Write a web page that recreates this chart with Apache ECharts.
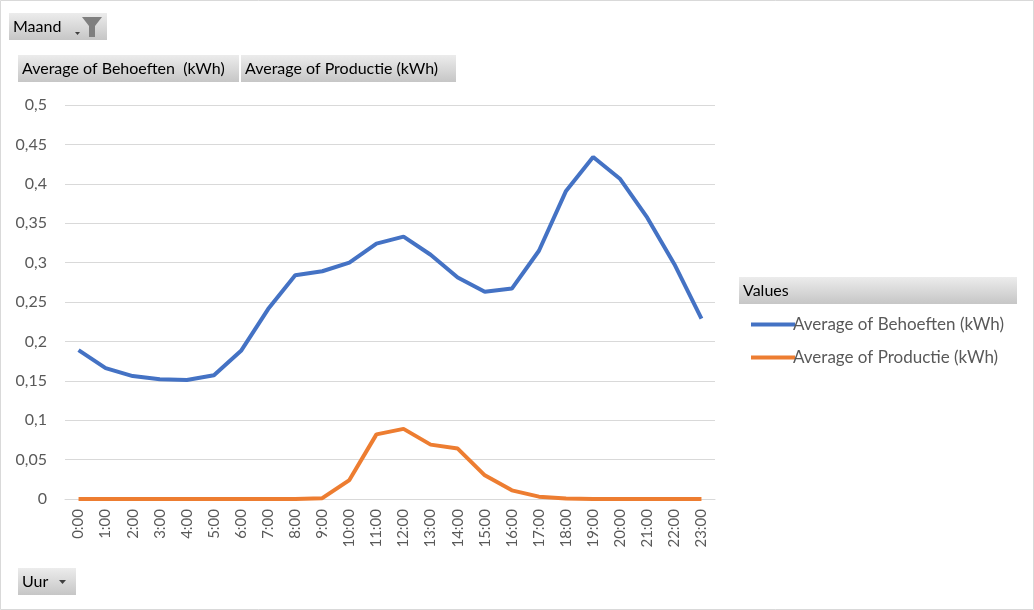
<!DOCTYPE html>
<html>
<head>
<meta charset="utf-8">
<title>Behoeften en Productie per uur</title>
<script src="https://cdn.jsdelivr.net/npm/echarts@6/dist/echarts.min.js"></script>
<style>
  html, body { margin: 0; padding: 0; background: #fff; }
  #chart { width: 1034px; height: 610px; }
</style>
</head>
<body>
<div id="chart"></div>
<script>
// data gelezen van de grafiek
const uren = ['0:00', '1:00', '2:00', '3:00', '4:00', '5:00', '6:00', '7:00', '8:00', '9:00', '10:00', '11:00',
  '12:00', '13:00', '14:00', '15:00', '16:00', '17:00', '18:00', '19:00', '20:00', '21:00', '22:00', '23:00'];
const behoeften = [0.189, 0.166, 0.156, 0.152, 0.151, 0.157, 0.188, 0.241, 0.284, 0.289, 0.300, 0.324,
  0.333, 0.310, 0.281, 0.263, 0.267, 0.315, 0.391, 0.434, 0.406, 0.357, 0.298, 0.229];
const productie = [0, 0, 0, 0, 0, 0, 0, 0, 0, 0.001, 0.024, 0.082,
  0.089, 0.069, 0.064, 0.030, 0.011, 0.003, 0.0005, 0, 0, 0, 0, 0];
const naamBehoeften = 'Average of Behoeften (kWh)';
const naamProductie = 'Average of Productie (kWh)';

const font = 'Lato, "Open Sans", sans-serif';
const grijs = '#595959';

// knop met grijze gradient zoals in de Excel pivot chart
function knop(x, y, w, h, tekst) {
  return {
    type: 'group',
    children: [
      {
        type: 'rect',
        shape: { x: x, y: y, width: w, height: h },
        style: {
          fill: new echarts.graphic.LinearGradient(0, 0, 0, 1, [
            { offset: 0, color: '#ececec' },
            { offset: 1, color: '#c6c6c6' }
          ])
        }
      },
      {
        type: 'text',
        x: x + 4, y: y + h / 2,
        style: { text: tekst, fill: '#000', font: '16px ' + font, verticalAlign: 'middle' }
      }
    ]
  };
}

const chart = echarts.init(document.getElementById('chart'));
const option = {
  animation: false,
  backgroundColor: '#fff',
  textStyle: { fontFamily: font },
  grid: { left: 65, right: 319, top: 105, bottom: 111 },
  legend: {
    orient: 'vertical',
    left: 746,
    top: 311,
    icon: 'rect',
    itemWidth: 44,
    itemHeight: 4,
    itemGap: 16,
    textStyle: { color: grijs, fontSize: 17, fontFamily: font, padding: [0, 0, 0, -7] },
    data: [naamBehoeften, naamProductie]
  },
  xAxis: {
    type: 'category',
    data: uren,
    axisLine: { lineStyle: { color: '#d9d9d9', width: 1 } },
    axisTick: { show: false },
    axisLabel: { rotate: 90, color: grijs, fontSize: 15, margin: 10, interval: 0 }
  },
  yAxis: {
    type: 'value',
    min: 0,
    max: 0.5,
    interval: 0.05,
    axisLine: { show: false },
    axisTick: { show: false },
    splitLine: { lineStyle: { color: '#d9d9d9', width: 1 } },
    axisLabel: {
      color: grijs, fontSize: 16, margin: 18,
      formatter: v => String(Math.round(v * 100) / 100).replace('.', ',')
    }
  },
  series: [
    {
      name: naamBehoeften,
      type: 'line',
      data: behoeften,
      showSymbol: false,
      color: '#4472C4',
      lineStyle: { width: 4, color: '#4472C4' }
    },
    {
      name: naamProductie,
      type: 'line',
      data: productie,
      showSymbol: false,
      color: '#ED7D31',
      lineStyle: { width: 4, color: '#ED7D31' }
    }
  ],
  graphic: [
    {
      type: 'rect',
      shape: { x: 0.5, y: 0.5, width: 1033, height: 609 },
      style: { fill: null, stroke: '#d9d9d9', lineWidth: 1 }
    },
    knop(9, 13, 98, 27, 'Maand'),
    { type: 'polygon', shape: { points: [[75, 32], [80, 32], [77.5, 35]] }, style: { fill: '#404040' } },
    {
      type: 'polygon',
      shape: { points: [[82, 17], [102, 17], [95, 26], [95, 37], [89, 37], [89, 26]] },
      style: { fill: '#7f7f7f' }
    },
    knop(18, 55, 221, 27, naamBehoeften.replace('Behoeften', 'Behoeften ')),
    knop(241, 55, 215, 27, naamProductie),
    knop(18, 568, 58, 27, 'Uur'),
    { type: 'polygon', shape: { points: [[59, 580], [66, 580], [62.5, 584]] }, style: { fill: '#404040' } },
    knop(739, 277, 278, 27, 'Values')
  ]
};
chart.setOption(option);
</script>
</body>
</html>
